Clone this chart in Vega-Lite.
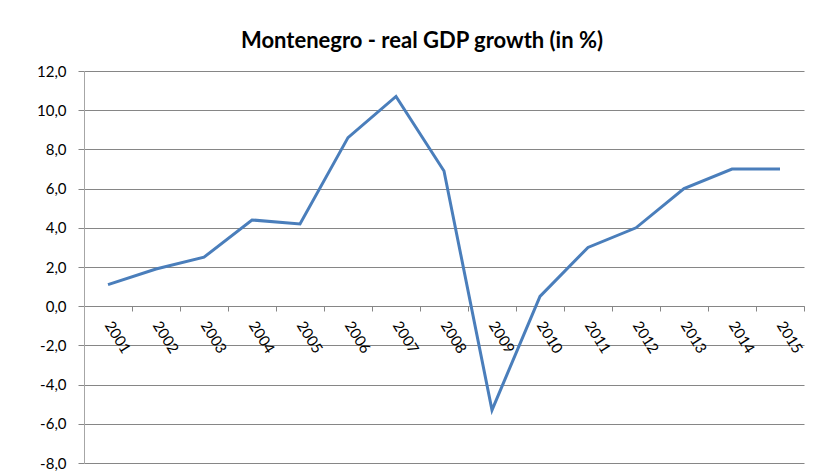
{
  "$schema": "https://vega.github.io/schema/vega-lite/v6.json",
  "width": 720,
  "height": 392,
  "autosize": {"type": "none"},
  "padding": {"left": 84, "top": 71, "right": 11, "bottom": 13},
  "background": "white",
  "title": {
    "text": "Montenegro - real GDP growth (in %)",
    "font": "Lato",
    "fontSize": 22,
    "fontWeight": "bold",
    "color": "#000000",
    "anchor": "middle",
    "frame": "group",
    "dx": -22,
    "offset": 11
  },
  "data": {
    "values": [
      {"year": "2001", "growth": 1.1},
      {"year": "2002", "growth": 1.9},
      {"year": "2003", "growth": 2.5},
      {"year": "2004", "growth": 4.4},
      {"year": "2005", "growth": 4.2},
      {"year": "2006", "growth": 8.6},
      {"year": "2007", "growth": 10.7},
      {"year": "2008", "growth": 6.9},
      {"year": "2009", "growth": -5.3},
      {"year": "2010", "growth": 0.5},
      {"year": "2011", "growth": 3.0},
      {"year": "2012", "growth": 4.0},
      {"year": "2013", "growth": 6.0},
      {"year": "2014", "growth": 7.0},
      {"year": "2015", "growth": 7.0}
    ]
  },
  "mark": {"type": "line", "color": "#4a7ebb", "strokeWidth": 3},
  "encoding": {
    "x": {
      "field": "year",
      "type": "ordinal",
      "bandPosition": 0.5,
      "scale": {"type": "band", "paddingInner": 0, "paddingOuter": 0},
      "axis": {
        "title": null,
        "orient": "bottom",
        "offset": -157,
        "grid": false,
        "domainColor": "#868686",
        "tickColor": "#868686",
        "tickBand": "extent",
        "tickSize": 5,
        "labelAngle": 58,
        "labelAlign": "left",
        "labelBaseline": "middle",
        "labelPadding": 11,
        "labelFont": "Lato",
        "labelFontSize": 15,
        "labelColor": "#000000"
      }
    },
    "y": {
      "field": "growth",
      "type": "quantitative",
      "scale": {"domain": [-8, 12], "nice": false},
      "axis": {
        "title": null,
        "values": [-8, -6, -4, -2, 0, 2, 4, 6, 8, 10, 12],
        "labelExpr": "(datum.value < 0 ? '-' : '') + replace(format(abs(datum.value), '.1f'), '.', ',')",
        "grid": true,
        "gridColor": "#868686",
        "domainColor": "#a6a6a6",
        "tickColor": "#868686",
        "tickSize": 6,
        "labelPadding": 12,
        "labelFont": "Lato",
        "labelFontSize": 15,
        "labelColor": "#000000"
      }
    }
  },
  "config": {"view": {"stroke": null}}
}
